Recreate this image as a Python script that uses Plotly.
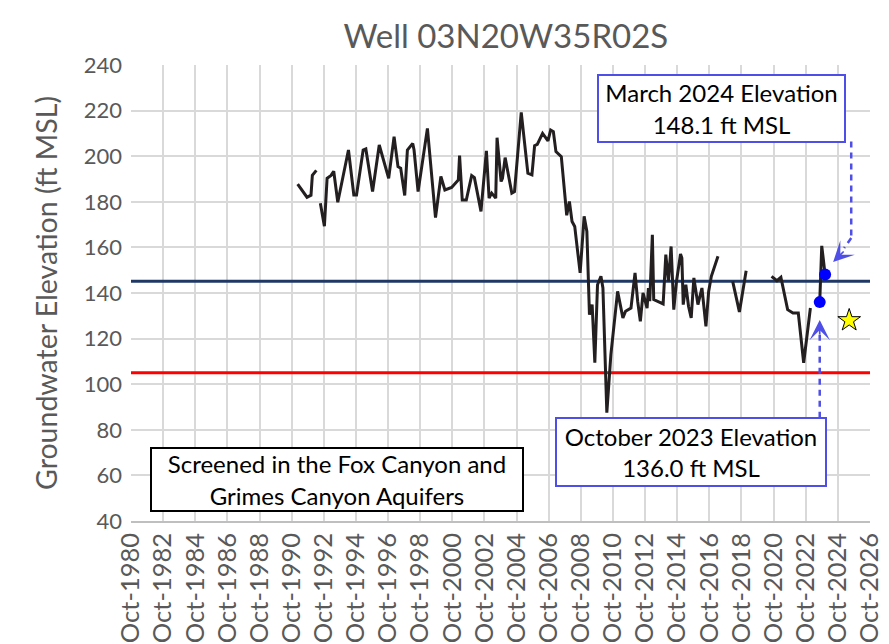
import plotly.graph_objects as go

# ---------------- data ----------------
dates = [
    "1991-02-15", "1991-09-15", "1991-12-15", "1992-01-15", "1992-04-15", "1992-05-30",
    "1992-07-15", "1992-10-15", "1992-12-15", "1993-03-15", "1993-05-15", "1993-08-15",
    "1994-04-15", "1994-08-15", "1994-10-15", "1995-03-15", "1995-05-15", "1995-10-15",
    "1996-03-15", "1996-10-15", "1997-02-15", "1997-05-15", "1997-07-15", "1997-10-15",
    "1997-12-15", "1998-04-15", "1998-05-15", "1998-08-15", "1999-03-15", "1999-09-15",
    "2000-01-15", "2000-04-15", "2000-09-15", "2001-02-15", "2001-03-15", "2001-05-15",
    "2001-08-15", "2001-12-15", "2002-02-15", "2002-07-15", "2002-11-15", "2003-01-15",
    "2003-03-15", "2003-06-15", "2003-07-15", "2003-10-15", "2003-11-15", "2004-01-15",
    "2004-06-15", "2004-08-15", "2005-01-15", "2005-06-15", "2005-09-15", "2005-11-15",
    "2006-01-15", "2006-05-15", "2006-09-15", "2006-11-15", "2007-01-15", "2007-03-15",
    "2007-07-15", "2007-10-15", "2007-11-15", "2008-01-15", "2008-03-15", "2008-05-15",
    "2008-09-15", "2008-12-15", "2009-02-15", "2009-04-15", "2009-06-15", "2009-08-15",
    "2009-10-15", "2010-01-01", "2010-02-15", "2010-05-15", "2010-08-15", "2011-01-15",
    "2011-05-15", "2011-07-15", "2011-11-15", "2012-02-15", "2012-04-15", "2012-06-15",
    "2012-08-15", "2012-11-15", "2012-12-15", "2013-01-15", "2013-03-15", "2013-04-15",
    "2013-11-15", "2014-01-15", "2014-03-15", "2014-05-15", "2014-07-15", "2014-09-15",
    "2014-12-15", "2015-01-15", "2015-02-15", "2015-04-15", "2015-06-15", "2015-08-15",
    "2015-10-15", "2016-01-15", "2016-04-15", "2016-07-15", "2016-09-15", "2016-11-15",
    "2017-04-15", "2017-09-01",
    "2018-03-15", "2018-08-15", "2019-01-15", "2019-09-01",
    "2020-08-15", "2020-12-15", "2021-03-15", "2021-08-15", "2021-12-15", "2022-04-15",
    "2022-08-15", "2023-01-15", "2023-05-01",
    "2023-08-15", "2023-09-30", "2023-12-15",
]
elevations = [
    187.7, 182.0, 182.9, 191.6, 193.8, None,
    179.4, 169.3, 190.3, 191.6, 193.4, 179.8,
    202.7, 183.0, 183.0, 202.7, 203.2, 184.5,
    204.9, 190.3, 208.6, 195.4, 194.7, 182.8,
    202.7, 205.6, 202.7, 184.5, 212.2, 173.1,
    191.1, 185.2, 186.3, 189.6, 200.3, 180.8,
    180.8, 191.5, 190.6, 175.8, 202.3, 181.6,
    183.8, 181.6, 208.1, 188.9, 190.3, 199.4,
    183.8, 184.5, 219.2, 192.5, 191.8, 204.6,
    205.2, 210.0, 206.7, 211.5, 210.8, 202.0,
    199.8, 181.6, 174.1, 180.1, 171.4, 169.2,
    148.8, 173.6, 167.0, 130.5, 134.9, 109.4,
    143.6, 147.3, 142.2, 87.5, 113.0, 140.7,
    129.1, 132.0, 133.4, 148.8, 136.4, 127.6,
    140.0, 133.4, 142.2, 136.4, 165.5, 137.1,
    135.2, 156.8, 145.1, 160.4, 132.7, 145.1,
    157.1, 155.3, 134.9, 143.6, 134.2, 129.1,
    146.6, 134.9, 142.2, 125.4, 140.7, 147.3,
    156.1, None,
    145.1, 131.7, 149.8, None,
    147.3, 145.4, 146.9, 132.7, 131.2, 131.2,
    109.4, 133.4, None,
    136.0, 160.7, 148.1,
]

highlight_dates = ["2023-08-15", "2023-12-15"]
highlight_values = [136.0, 148.1]

star_date = ["2025-06-15"]
star_value = [128.0]

upper_level = 145.1
lower_level = 105.0

x_start, x_end = "1980-10-01", "2026-10-01"
tick_dates = [f"{y}-10-01" for y in range(1980, 2027, 2)]
tick_labels = [f"Oct-{y}" for y in range(1980, 2027, 2)]

title_text = "Well 03N20W35R02S"
y_title = "Groundwater Elevation (ft MSL)"
note_march = "March 2024 Elevation<br>148.1 ft MSL"
note_oct = "October 2023 Elevation<br>136.0 ft MSL"
note_screen = "Screened in the Fox Canyon and<br>Grimes Canyon Aquifers"

# ---------------- figure ----------------
FONT = "Lato"
GREY = "#595959"
ARROW = "#4f4fe8"

fig = go.Figure()

fig.add_trace(go.Scatter(x=[x_start, x_end], y=[upper_level, upper_level], mode="lines",
                         line=dict(color="#203864", width=3), hoverinfo="skip"))
fig.add_trace(go.Scatter(x=[x_start, x_end], y=[lower_level, lower_level], mode="lines",
                         line=dict(color="#ff0000", width=3), hoverinfo="skip"))
fig.add_trace(go.Scatter(x=dates, y=elevations, mode="lines", connectgaps=False,
                         line=dict(color="#231f20", width=3)))
fig.add_trace(go.Scatter(x=highlight_dates, y=highlight_values, mode="markers",
                         marker=dict(color="#0000ff", size=12)))
fig.add_trace(go.Scatter(x=star_date, y=star_value, mode="markers",
                         marker=dict(symbol="star", color="#ffff00", size=17,
                                     line=dict(color="black", width=1))))

# dashed arrow shafts
dash = dict(color=ARROW, width=2.5, dash="6px,5px")
fig.add_shape(type="line", xref="x", yref="y", x0=highlight_dates[0], x1=highlight_dates[0],
              y0=85.3, y1=123.0, line=dash)
fig.add_shape(type="line", xref="x", yref="y", x0="2025-07-31", x1="2025-07-31",
              y0=206.5, y1=164.1, line=dash)
fig.add_shape(type="line", xref="x", yref="y", x0="2025-07-31", x1="2025-02-20",
              y0=164.1, y1=159.7, line=dash)

# arrow heads
fig.add_annotation(x=highlight_dates[0], y=128.2, xref="x", yref="y", text="",
                   showarrow=True, ax=0, ay=16, arrowhead=3, arrowsize=2.0,
                   arrowwidth=1.7, arrowcolor=ARROW)
fig.add_annotation(x="2024-06-15", y=153.6, xref="x", yref="y", text="",
                   showarrow=True, ax=12, ay=-12, arrowhead=3, arrowsize=2.0,
                   arrowwidth=1.7, arrowcolor=ARROW)

# text boxes
def box(text, xc, yc, w, h, color):
    fig.add_annotation(text=text, xref="paper", yref="paper", x=xc, y=yc,
                       xanchor="center", yanchor="middle", showarrow=False,
                       width=w, height=h, align="center", valign="middle",
                       bgcolor="white", bordercolor=color, borderwidth=2, borderpad=1,
                       font=dict(family=FONT, size=24, color="black"))

box(note_march, 0.7996, 0.905, 243, 63, ARROW)
box(note_oct, 0.7576, 0.152, 266, 64, ARROW)
box(note_screen, 0.2783, 0.092, 368, 59, "black")

# y-axis title placed explicitly
fig.add_annotation(text=y_title, xref="paper", yref="paper", x=-0.1151, y=0.5,
                   xanchor="center", yanchor="middle", textangle=-90, showarrow=False,
                   font=dict(family=FONT, size=28.5, color=GREY))

fig.update_layout(
    width=889, height=644,
    margin=dict(l=123, r=27, t=57, b=131),
    paper_bgcolor="white", plot_bgcolor="white",
    showlegend=False,
    title=dict(text=title_text, x=0.56, xref="container", xanchor="center",
               y=1 - 28 / 644, yref="container", yanchor="middle",
               font=dict(family=FONT, size=33, color=GREY)),
    font=dict(family=FONT, color=GREY),
)
fig.update_xaxes(
    type="date", range=[x_start, x_end], automargin=False,
    tickmode="array", tickvals=tick_dates, ticktext=tick_labels,
    tickangle=-90, tickfont=dict(family=FONT, size=25.5, color=GREY),
    showgrid=True, gridcolor="#d9d9d9", gridwidth=1.5,
    showline=True, linecolor="#bfbfbf", linewidth=1.5,
    ticks="", zeroline=False,
)
fig.update_yaxes(
    range=[40, 240], tickmode="linear", tick0=40, dtick=20, automargin=False,
    tickfont=dict(family=FONT, size=22, color=GREY),
    showgrid=True, gridcolor="#d9d9d9", gridwidth=1.5,
    zeroline=False, ticks="", ticklabelstandoff=8,
)

fig.write_html("out.html")
